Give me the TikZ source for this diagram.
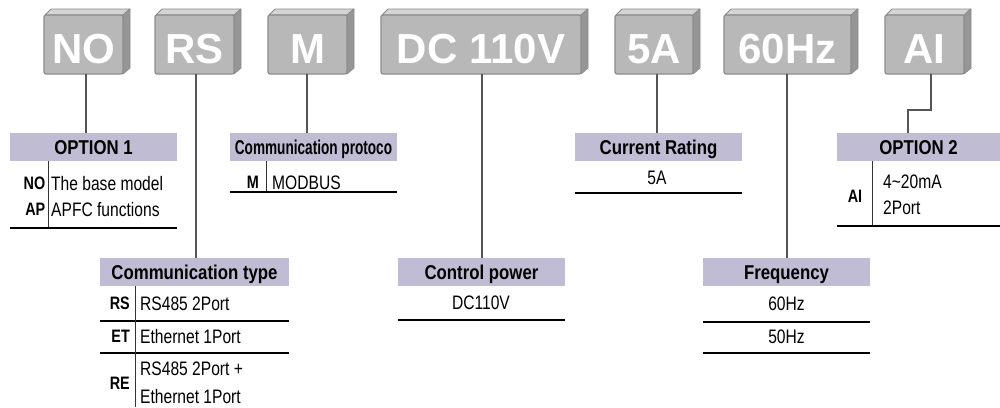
\documentclass[tikz,border=0pt]{standalone}
\usepackage{fontspec}
\setmainfont{Liberation Sans}[FakeStretch=0.8]
\newfontfamily\hdrfont{Liberation Sans}[FakeStretch=0.84]
\newfontfamily\boxfont{Liberation Sans}
\newfontfamily\narrowfont{Liberation Sans}[FakeStretch=0.68]
\definecolor{boxface}{RGB}{184,184,184}
\definecolor{boxline}{RGB}{140,140,140}
\definecolor{boxtop}{RGB}{212,212,212}
\definecolor{boxside}{RGB}{150,150,150}
\definecolor{hdrfill}{RGB}{192,188,212}
\definecolor{connc}{RGB}{85,85,85}
\tikzset{
  face/.style={draw=boxline, fill=boxface, line width=1.2pt, rounded corners=2pt,
    inner sep=0pt, outer sep=0pt, minimum height=59pt, text height=37pt, text depth=0pt,
    text=white, font=\boxfont\bfseries\fontsize{42}{42}\selectfont},
  topface/.style={draw=boxline, fill=boxtop, line width=0.8pt, line join=round},
  sideface/.style={draw=boxline, fill=boxside, line width=0.8pt, line join=round},
  hdr/.style={fill=hdrfill, inner sep=0pt, outer sep=0pt, minimum height=28pt,
    text height=14.3pt, text depth=0pt, font=\hdrfont\bfseries\fontsize{20}{20}\selectfont},
  cell/.style={inner sep=0pt, anchor=west, text height=14pt, text depth=0pt,
    font=\fontsize{19.5}{19.5}\selectfont},
  cellc/.style={cell, anchor=center},
  lab/.style={inner sep=0pt, anchor=east, text height=13pt, text depth=0pt,
    font=\bfseries\fontsize{18}{18}\selectfont},
  tline/.style={line width=1.2pt, black},
  divl/.style={line width=0.9pt, black!80},
  conn/.style={line width=1.1pt, connc},
}
\newcommand\pbox[4]{%
  \filldraw[topface] (#2+1,15) -- (#2+7,9) -- (#3+7,9) -- (#3,15) -- cycle;
  \filldraw[sideface] (#3,15) -- (#3+7,9) -- (#3+7,68) -- (#3,74) -- cycle;
  \node[face, minimum width={(#3-#2)*1pt}] (#1) at ({(#2+#3)/2},44.5) {#4};
}
\begin{document}
\begin{tikzpicture}[x=1pt,y=-1pt]
\useasboundingbox (0,0) rectangle (1000,407);
% top code boxes
\pbox{bNO}{44}{123}{NO}
\pbox{bRS}{155}{234}{RS}
\pbox{bM}{268}{347}{M}
\pbox{bDC}{381}{581}{DC 110V}
\pbox{bA}{615}{693}{5A}
\pbox{bHz}{724}{851}{60Hz}
\pbox{bAI}{885}{964}{AI}

% headers
\node[hdr, minimum width=167pt] (hO1) at (93.5,147) {OPTION 1};
\node[hdr, minimum width=167pt, font=\narrowfont\bfseries\fontsize{20}{20}\selectfont] (hCP) at (313.5,147) {Communication protoco};
\node[hdr, minimum width=167pt] (hCR) at (658.5,147) {Current Rating};
\node[hdr, minimum width=163pt] (hO2) at (918.5,147) {OPTION 2};
\node[hdr, minimum width=189pt] (hCT) at (194.5,272) {Communication type};
\node[hdr, minimum width=167pt] (hPW) at (481.5,272) {Control power};
\node[hdr, minimum width=167pt] (hFr) at (786.5,272) {Frequency};

% connectors
\coordinate (cNO) at ([xshift=2.5pt]bNO.south);
\draw[conn] (cNO) -- (cNO |- hO1.north);
\coordinate (cRS) at ([xshift=1.5pt]bRS.south);
\draw[conn] (cRS) -- (cRS |- hCT.north);
\coordinate (cM) at ([xshift=-0.5pt]bM.south);
\draw[conn] (cM) -- (cM |- hCP.north);
\coordinate (cDC) at ([xshift=1pt]bDC.south);
\draw[conn] (cDC) -- (cDC |- hPW.north);
\coordinate (cA) at ([xshift=3pt]bA.south);
\draw[conn] (cA) -- (cA |- hCR.north);
\coordinate (cHz) at ([xshift=-0.5pt]bHz.south);
\draw[conn] (cHz) -- (cHz |- hFr.north);
\coordinate (cAI) at ([xshift=6.5pt]bAI.south);
\coordinate (cAI2) at ([xshift=-10.5pt]hO2.north);
\coordinate (elb) at (0,110);
\draw[conn] (cAI) -- (cAI |- elb) -- (cAI2 |- elb) -- (cAI2);

% OPTION 1 table
\node[lab] (lNO) at (45.5,183) {NO};
\node[cell] (tNO) at (51,183) {The base model};
\node[lab] (lAP) at (45.5,209) {AP};
\node[cell] (tAP) at (51,209) {APFC functions};
\draw[divl] (48,161) -- (48,228);
\draw[tline] (10,228) -- (177,228);

% Communication protocol table
\node[lab] (lM) at (259,182) {M};
\node[cell] (tM) at (272,182) {MODBUS};
\draw[divl] (266,161) -- (266,192);
\draw[tline] (230,192) -- (397,192);

% Current rating table
\node[cellc] (tA) at (657,177) {5A};
\draw[tline] (575,193) -- (742,193);

% OPTION 2 table
\node[lab, anchor=center] (lAI) at (855,196) {AI};
\node[cell] (tAI1) at (883,181) {4\textasciitilde 20mA};
\node[cell] (tAI2) at (883,207) {2Port};
\draw[divl] (872,161) -- (872,226);
\draw[tline] (837,226) -- (1000,226);

% Communication type table
\node[lab] (lRS) at (130,303) {RS};
\node[cell] (tRS) at (140,303) {RS485 2Port};
\draw[tline] (100,321) -- (289,321);
\node[lab] (lET) at (130,336) {ET};
\node[cell] (tET) at (140,336) {Ethernet 1Port};
\draw[tline] (100,353) -- (289,353);
\node[lab] (lRE) at (130,383) {RE};
\node[cell] (tRE1) at (140,368) {RS485 2Port +};
\node[cell] (tRE2) at (140,396) {Ethernet 1Port};
\draw[divl] (135,286) -- (135,407);

% Control power table
\node[cellc] (tPW) at (481,302) {DC110V};
\draw[tline] (398,320) -- (565,320);

% Frequency table
\node[cellc] (tF1) at (786.5,303) {60Hz};
\draw[tline] (703,322) -- (870,322);
\node[cellc] (tF2) at (786.5,336) {50Hz};
\draw[tline] (703,353) -- (870,353);
\end{tikzpicture}
\end{document}
